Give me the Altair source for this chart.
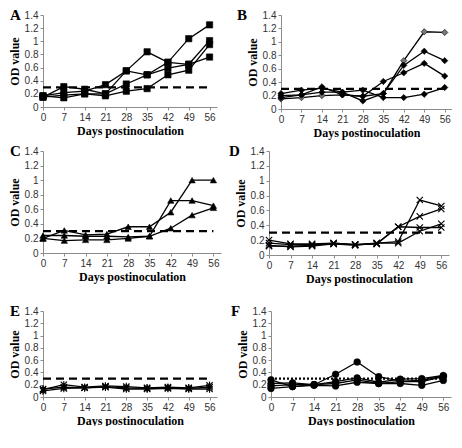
import altair as alt
import pandas as pd

days = [0, 7, 14, 21, 28, 35, 42, 49, 56]
y_ticks = [0, 0.2, 0.4, 0.6, 0.8, 1.0, 1.2, 1.4]
threshold = 0.3

# Panel A (squares)
A_s1 = [0.15, 0.31, 0.27, 0.20, 0.55, 0.84, 0.68, 0.65, 0.76]
A_s2 = [0.17, 0.22, 0.24, 0.34, 0.55, 0.49, 0.68, 1.04, 1.25]
A_s3 = [0.15, 0.18, 0.20, 0.20, 0.35, 0.49, 0.59, 0.65, 1.01]
A_s4 = [0.17, 0.14, 0.20, 0.17, 0.24, 0.28, 0.49, 0.56, 0.95]
# Panel B (diamonds)
B_s1 = [0.15, 0.17, 0.20, 0.21, 0.19, 0.23, 0.72, 1.15, 1.14]
B_s2 = [0.17, 0.21, 0.25, 0.25, 0.12, 0.23, 0.65, 0.86, 0.72]
B_s3 = [0.20, 0.21, 0.33, 0.21, 0.19, 0.41, 0.54, 0.68, 0.49]
B_s4 = [0.23, 0.28, 0.31, 0.25, 0.28, 0.17, 0.17, 0.22, 0.32]
# Panel C (triangles)
C_s1 = [0.20, 0.31, 0.25, 0.26, 0.36, 0.36, 0.56, 1.00, 1.00]
C_s2 = [0.24, 0.24, 0.23, 0.23, 0.22, 0.23, 0.72, 0.72, 0.65]
C_s3 = [0.20, 0.17, 0.18, 0.18, 0.20, 0.23, 0.34, 0.52, 0.62]
# Panel D (x marks)
D_s1 = [0.20, 0.15, 0.15, 0.16, 0.14, 0.16, 0.18, 0.74, 0.66]
D_s2 = [0.16, 0.14, 0.14, 0.15, 0.14, 0.15, 0.38, 0.52, 0.62]
D_s3 = [0.12, 0.12, 0.13, 0.16, 0.14, 0.15, 0.38, 0.37, 0.37]
D_s4 = [0.13, 0.11, 0.12, 0.15, 0.13, 0.16, 0.16, 0.32, 0.42]
# Panel E (asterisks)
E_s1 = [0.12, 0.20, 0.16, 0.18, 0.17, 0.15, 0.16, 0.15, 0.19]
E_s2 = [0.13, 0.16, 0.15, 0.17, 0.15, 0.14, 0.15, 0.14, 0.16]
E_s3 = [0.10, 0.14, 0.15, 0.16, 0.13, 0.13, 0.14, 0.13, 0.13]
# Panel F (circles)
F_s1 = [0.28, 0.17, 0.20, 0.37, 0.57, 0.33, 0.26, 0.27, 0.34]
F_s2 = [0.22, 0.23, 0.20, 0.25, 0.31, 0.24, 0.29, 0.30, 0.35]
F_s3 = [0.18, 0.20, 0.20, 0.22, 0.28, 0.22, 0.25, 0.25, 0.33]
F_s4 = [0.14, 0.17, 0.19, 0.18, 0.24, 0.22, 0.22, 0.19, 0.27]

X_PATH = "M-1,-1L1,1M-1,1L1,-1"
AST_PATH = "M-1,-1L1,1M-1,1L1,-1M0,-1.2L0,1.2"

LABEL_FONT = "Liberation Sans"
TITLE_FONT = "Liberation Serif"


def make_panel(letter, series, shape, filled, size, fills, dash, width, height, lx):
    rows = []
    for i, vals in enumerate(series):
        for d, v in zip(days, vals):
            rows.append({"day": d, "od": v, "series": f"s{i+1}", "fill": fills[i]})
    df = pd.DataFrame(rows)
    xs = alt.Scale(domain=[0, 58.5], nice=False, zero=False)
    ys = alt.Scale(domain=[0, 1.4], nice=False)
    x = alt.X("day:Q", scale=xs,
              axis=alt.Axis(values=days, tickCount=30, title="Days postinoculation",
                            grid=False, labelFlush=False, labelOverlap=False,
                            tickSize=3, labelPadding=2, titlePadding=3))
    y = alt.Y("od:Q", scale=ys,
              axis=alt.Axis(values=y_ticks, tickCount=30, format="~g", title="OD value",
                            grid=False, labelOverlap=False, labelFlush=False,
                            tickSize=3, labelPadding=2, titlePadding=3))
    base = alt.Chart(df)
    lines = base.mark_line(color="black", strokeWidth=1.3).encode(
        x=x, y=y, detail="series:N")
    if filled:
        pts = base.mark_point(shape=shape, filled=True, size=size, stroke="black",
                              strokeWidth=0.6, opacity=1).encode(
            x="day:Q", y="od:Q", fill=alt.Fill("fill:N", scale=None))
    else:
        pts = base.mark_point(shape=shape, filled=False, size=size, color="black",
                              strokeWidth=1.1, opacity=1).encode(x="day:Q", y="od:Q")
    rule_df = pd.DataFrame({"x0": [0], "x1": [56], "t": [threshold]})
    rule = alt.Chart(rule_df).mark_rule(color="black", strokeWidth=2.2,
                                        strokeDash=dash).encode(
        x="x0:Q", x2="x1:Q", y="t:Q")
    lab = alt.Chart(pd.DataFrame({"l": [letter]})).mark_text(
        font=TITLE_FONT, fontWeight="bold", fontSize=15, align="left",
        baseline="top", color="black").encode(
        text="l:N", x=alt.value(lx), y=alt.value(-7))
    return alt.layer(lines, pts, rule, lab).properties(width=width, height=height)


DASH = [8, 5]
A = make_panel("A", [A_s1, A_s2, A_s3, A_s4], "square", True, 40,
               ["black"] * 4, DASH, 174, 92, -33)
B = make_panel("B", [B_s1, B_s2, B_s3, B_s4], "diamond", True, 40,
               ["#777777", "black", "black", "black"], DASH, 171, 94, -44)
C = make_panel("C", [C_s1, C_s2, C_s3], "triangle-up", True, 40,
               ["black"] * 3, DASH, 178, 102, -33)
D = make_panel("D", [D_s1, D_s2, D_s3, D_s4], X_PATH, False, 40,
               ["black"] * 4, DASH, 180, 104, -40)
E = make_panel("E", [E_s1, E_s2, E_s3], AST_PATH, False, 40,
               ["black"] * 3, DASH, 174, 86, -33)
F = make_panel("F", [F_s1, F_s2, F_s3, F_s4], "circle", True, 45,
               ["black"] * 4, [2, 2], 180, 86, -40)

chart = alt.vconcat(
    alt.vconcat(
        alt.hconcat(A, B, spacing=20),
        alt.hconcat(C, D, spacing=8),
        spacing=6,
    ),
    alt.hconcat(E, F, spacing=14),
    spacing=20,
).properties(
    padding={"left": 0, "top": 0, "right": 0, "bottom": 0}
).configure_view(stroke=None).configure_axis(
    domainColor="#8c8c8c", tickColor="#8c8c8c", labelColor="#333333",
    labelFont=LABEL_FONT, labelFontSize=10, titleFont=TITLE_FONT,
    titleFontSize=12, titleFontWeight="bold", titleColor="black",
)

chart.save("out.html", embed_options={"renderer": "svg", "actions": False})
